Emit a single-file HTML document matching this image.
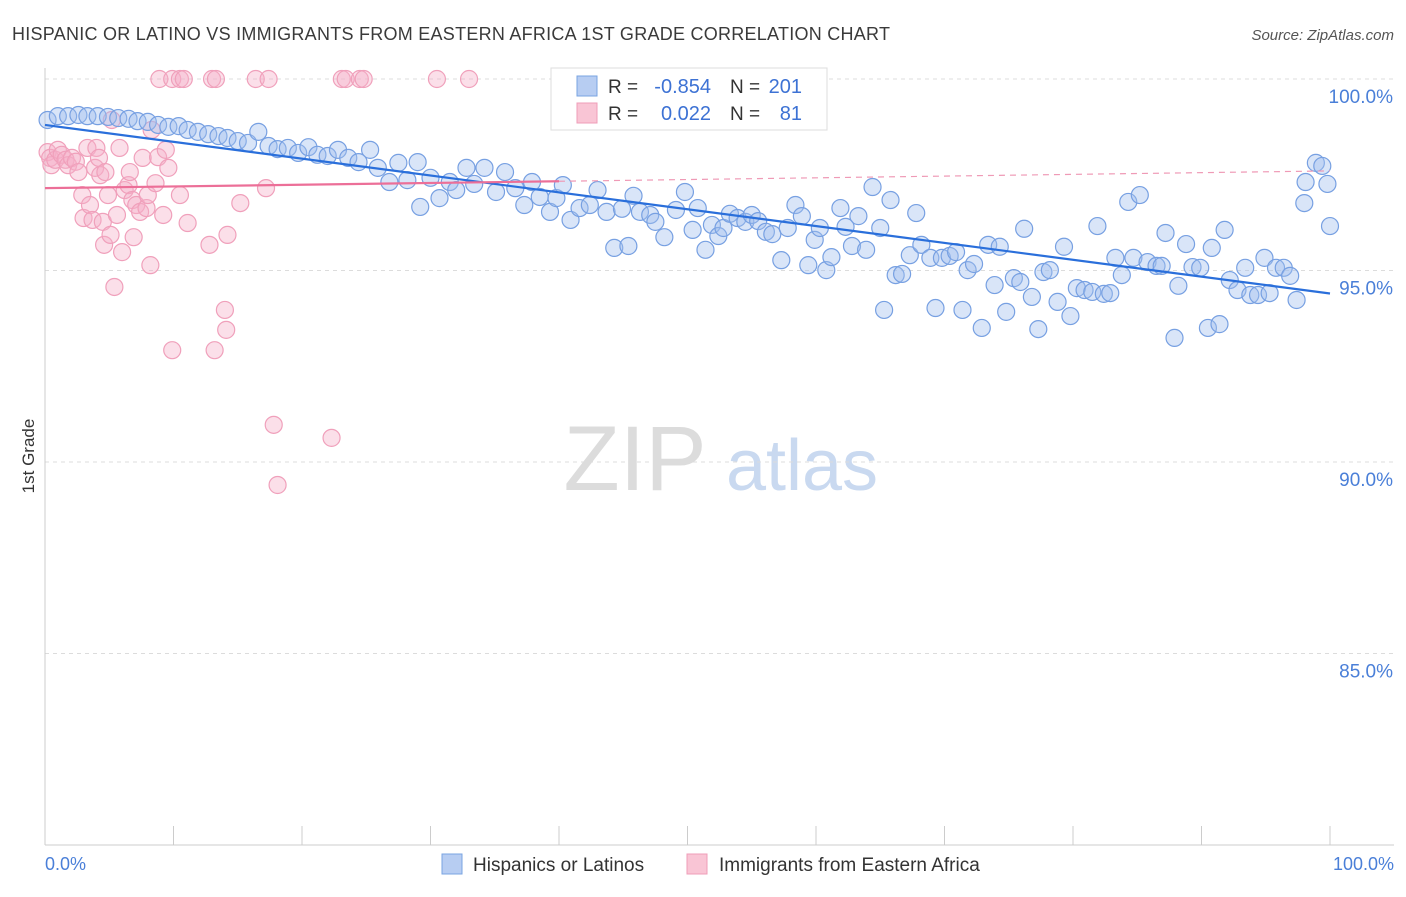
<!DOCTYPE html>
<html><head><meta charset="utf-8">
<style>
body{margin:0;background:#fff;font-family:"Liberation Sans",sans-serif;}
svg text{font-family:"Liberation Sans",sans-serif;}
</style></head>
<body>
<svg id="chart" width="1406" height="892" viewBox="0 0 1406 892" xmlns="http://www.w3.org/2000/svg">
<text x="12" y="40" font-size="18" fill="#3a3a3a" textLength="878" lengthAdjust="spacing">HISPANIC OR LATINO VS IMMIGRANTS FROM EASTERN AFRICA 1ST GRADE CORRELATION CHART</text>
<text x="1394" y="40" font-size="15" fill="#555" font-style="italic" text-anchor="end">Source: ZipAtlas.com</text>
<g>
<text x="635" y="490" font-size="92" fill="#dcdcdc" text-anchor="middle" font-family="Liberation Serif, serif">ZIP</text>
<text x="802" y="490" font-size="72" fill="#c9d9f0" text-anchor="middle">atlas</text>
</g>
<g id="grid"></g>
<g id="axes"></g>
<g id="pinkPts"></g>
<g id="bluePts"></g>
<g id="lines"></g>
<text transform="translate(34,456) rotate(-90)" font-size="17" fill="#333" text-anchor="middle">1st Grade</text>
<text x="45" y="870" font-size="18" fill="#4a7fd8">0.0%</text>
<text x="1394" y="870" font-size="18" fill="#4a7fd8" text-anchor="end">100.0%</text>
<g>
<rect x="551" y="68" width="276" height="62" fill="#fff" stroke="#ddd"/>
<rect x="577" y="76" width="20" height="20" fill="#b7cdf2" stroke="#7aa4e2"/>
<rect x="577" y="103" width="20" height="20" fill="#f9c5d5" stroke="#ef9db8"/>
<text x="608" y="93" font-size="19" fill="#333">R =</text>
<text x="711" y="93" font-size="20" fill="#3d72d4" text-anchor="end">-0.854</text>
<text x="730" y="93" font-size="19" fill="#333">N =</text>
<text x="802" y="93" font-size="20" fill="#3d72d4" text-anchor="end">201</text>
<text x="608" y="120" font-size="19" fill="#333">R =</text>
<text x="711" y="120" font-size="20" fill="#3d72d4" text-anchor="end">0.022</text>
<text x="730" y="120" font-size="19" fill="#333">N =</text>
<text x="802" y="120" font-size="20" fill="#3d72d4" text-anchor="end">81</text>
</g>
<g>
<rect x="442" y="854" width="20" height="20" fill="#b7cdf2" stroke="#7aa4e2"/>
<text x="473" y="871" font-size="19" fill="#333">Hispanics or Latinos</text>
<rect x="687" y="854" width="20" height="20" fill="#f9c5d5" stroke="#ef9db8"/>
<text x="719" y="871" font-size="19" fill="#333">Immigrants from Eastern Africa</text>
</g>
</svg>
<script>
const yTicks=[100,95,90,85];
const yTickLabels=["100.0%","95.0%","90.0%","85.0%"];
const xTicks=[0,10,20,30,40,50,60,70,80,90,100];
const blueX=[0.2,1.0,1.8,2.6,3.3,4.1,4.9,5.7,6.5,7.2,8.0,8.8,9.6,10.4,11.1,11.9,12.7,13.5,14.2,15.0,15.8,16.6,17.4,18.1,18.9,19.7,20.5,21.2,22.0,22.8,23.6,24.4,25.3,25.9,26.8,27.5,28.2,29.0,29.2,30.0,30.7,31.5,32.0,32.8,33.4,34.2,35.1,35.8,36.6,37.3,37.9,38.5,39.3,39.8,40.3,40.9,41.6,42.4,43.0,43.7,44.3,44.9,45.4,45.8,46.3,47.1,47.5,48.2,49.1,49.8,50.4,50.8,51.4,51.9,52.4,52.8,53.3,53.9,54.5,55.0,55.5,56.1,56.6,57.3,57.8,58.4,58.9,59.4,59.9,60.3,60.8,61.2,61.9,62.3,62.8,63.3,63.9,64.4,65.0,65.3,65.8,66.2,66.7,67.3,67.8,68.2,68.9,69.3,69.8,70.4,70.9,71.4,71.8,72.3,72.9,73.4,73.9,74.3,74.8,75.4,75.9,76.2,76.8,77.3,77.7,78.2,78.8,79.3,79.8,80.3,80.9,81.5,81.9,82.4,82.9,83.3,83.8,84.3,84.7,85.2,85.8,86.5,86.9,87.2,87.9,88.2,88.8,89.3,89.9,90.5,90.8,91.4,91.8,92.2,92.8,93.4,93.8,94.4,94.9,95.3,95.8,96.4,96.9,97.4,98.0,98.1,98.9,99.4,99.8,100];
const blueY=[98.93,99.03,99.03,99.06,99.03,99.03,99.01,98.98,98.96,98.90,98.88,98.80,98.75,98.77,98.67,98.62,98.56,98.51,98.46,98.38,98.33,98.62,98.25,98.17,98.20,98.07,98.22,98.02,97.99,98.15,97.94,97.83,98.15,97.68,97.31,97.81,97.36,97.83,96.66,97.42,96.89,97.31,97.10,97.68,97.26,97.68,97.05,97.57,97.15,96.71,97.31,96.92,96.53,96.89,97.23,96.32,96.63,96.71,97.10,96.53,95.59,96.61,95.64,96.95,96.53,96.45,96.27,95.87,96.58,97.05,96.06,96.63,95.54,96.19,95.90,96.11,96.48,96.37,96.27,96.45,96.29,96.01,95.95,95.27,96.11,96.71,96.42,95.14,95.80,96.11,95.01,95.35,96.63,96.14,95.64,96.42,95.54,97.18,96.11,93.97,96.84,94.88,94.91,95.40,96.50,95.67,95.33,94.02,95.33,95.38,95.48,93.97,95.01,95.17,93.50,95.67,94.62,95.62,93.92,94.80,94.70,96.09,94.31,93.47,94.96,95.01,94.18,95.62,93.81,94.54,94.49,94.44,96.16,94.39,94.41,95.33,94.88,96.79,95.33,96.97,95.22,95.12,95.12,95.98,93.24,94.60,95.69,95.09,95.07,93.50,95.59,93.60,96.06,94.75,94.49,95.07,94.36,94.36,95.33,94.41,95.07,95.07,94.86,94.23,96.76,97.31,97.81,97.73,97.26,96.16];
const pinkX=[8.9,9.9,10.5,10.8,13.0,13.3,16.4,17.4,23.1,23.4,24.5,24.8,30.5,33.0,0.2,0.4,0.5,0.8,1.0,1.3,1.6,1.8,2.1,2.4,2.6,2.9,3.0,3.3,3.5,3.7,3.9,4.0,4.2,4.3,4.5,4.6,4.7,4.9,5.1,5.2,5.4,5.6,5.8,6.0,6.2,6.5,6.6,6.8,6.9,7.1,7.4,7.6,7.9,8.0,8.2,8.3,8.6,8.8,9.2,9.4,9.6,9.9,10.5,11.1,12.8,13.2,14.0,14.1,14.2,15.2,17.2,17.8,18.1,22.3];
const pinkY=[100,100,100,100,100,100,100,100,100,100,100,100,100,100,98.09,97.94,97.75,97.89,98.15,98.02,97.89,97.75,97.94,97.84,97.57,96.97,96.37,98.20,96.71,96.32,97.68,98.20,97.94,97.49,96.27,95.67,97.57,96.97,95.93,98.93,94.57,96.45,98.20,95.48,97.10,97.23,97.57,96.84,95.87,96.71,96.53,97.94,96.63,96.97,95.14,98.67,97.28,97.96,96.45,98.15,97.68,92.92,96.97,96.24,95.67,92.92,93.97,93.45,95.93,96.76,97.15,90.97,89.40,90.63];
const blueTrend=[98.8,94.4];
const pinkTrend=[97.15,97.6];
const pinkSolidEnd=40;

const NS="http://www.w3.org/2000/svg";
const X0=45,X1=1330,YTOP=79,PXPER=38.3;
function xs(v){return X0+(X1-X0)*v/100;}
function ys(v){return YTOP+(100-v)*PXPER;}
function mk(tag,attrs,parent){const e=document.createElementNS(NS,tag);for(const k in attrs)e.setAttribute(k,attrs[k]);parent.appendChild(e);return e;}
const grid=document.getElementById('grid'),axes=document.getElementById('axes');
yTicks.forEach((t,i)=>{
 const l=mk('line',{x1:45,x2:1394,y1:ys(t),y2:ys(t),stroke:'#dcdcdc','stroke-dasharray':'4,4'},grid);
 
 
 const tx=mk('text',{x:1393,y:ys(t)+24,'font-size':19,fill:'#4a7fd8','text-anchor':'end'},grid);
 tx.textContent=yTickLabels[i];
 
 
});
const xa=mk('line',{x1:45,x2:1394,y1:845,y2:845,stroke:'#ccc'},axes);


const ya=mk('line',{x1:45,x2:45,y1:68,y2:845,stroke:'#ccc'},axes);


xTicks.forEach(t=>{
 const l=mk('line',{x1:xs(t),x2:xs(t),y1:826,y2:845,stroke:'#ccc'},axes);
 
 
});
const pg=document.getElementById('pinkPts');
pinkX.forEach((v,i)=>{
 const c=mk('circle',{cx:xs(v),cy:ys(pinkY[i]),r:8.5,fill:'rgba(246,176,200,0.4)',stroke:'#f0a0bb','stroke-width':1.2},pg);
 
 
});
const bg=document.getElementById('bluePts');
blueX.forEach((v,i)=>{
 const c=mk('circle',{cx:xs(v),cy:ys(blueY[i]),r:8.5,fill:'rgba(160,190,238,0.4)',stroke:'#77a0e2','stroke-width':1.2},bg);
 
 
});
const lg=document.getElementById('lines');
const bl=mk('line',{x1:xs(0),y1:ys(blueTrend[0]),x2:xs(100),y2:ys(blueTrend[1]),stroke:'#2a6fdb','stroke-width':2.2},lg);


const pAt=v=>pinkTrend[0]+(pinkTrend[1]-pinkTrend[0])*v/100;
const pl=mk('line',{x1:xs(0),y1:ys(pAt(0)),x2:xs(pinkSolidEnd),y2:ys(pAt(pinkSolidEnd)),stroke:'#ec6f98','stroke-width':2.2},lg);


const pd=mk('line',{x1:xs(pinkSolidEnd),y1:ys(pAt(pinkSolidEnd)),x2:xs(100),y2:ys(pAt(100)),stroke:'#ef9ab6','stroke-width':1.2,'stroke-dasharray':'6,5'},lg);


</script>
</body></html>
